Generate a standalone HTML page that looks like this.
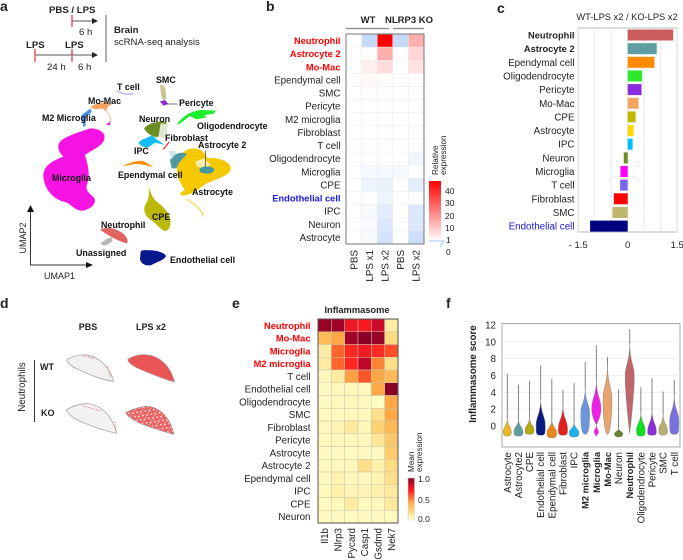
<!DOCTYPE html>
<html><head><meta charset="utf-8"><title>Brain scRNA-seq figure</title>
<style>
html,body{margin:0;padding:0;background:#fff;width:683px;height:560px;overflow:hidden}
svg{display:block;font-family:"Liberation Sans",sans-serif;fill:#222}
text{white-space:pre}
.b{font-weight:bold}
.r{fill:#f00;font-weight:bold}
</style></head>
<body>
<svg id="fig" width="683" height="560" viewBox="0 0 683 560" xmlns="http://www.w3.org/2000/svg">
<defs>
<pattern id="speck" width="20" height="15" patternUnits="userSpaceOnUse" patternTransform="rotate(28)"><rect width="20" height="15" fill="#ea5f5f"/><rect x="2" y="2" width="7" height="4" fill="#f7dcdc"/><rect x="13" y="8" width="5" height="5" fill="#f7dcdc"/><rect x="4" y="10" width="3" height="3" fill="#f7dcdc"/></pattern>
<linearGradient id="cbb" x1="0" y1="0" x2="0" y2="1"><stop offset="0" stop-color="#f00"/><stop offset="1" stop-color="#fff"/></linearGradient>
<linearGradient id="cbe" x1="0" y1="0" x2="0" y2="1"><stop offset="0" stop-color="#8a0026"/><stop offset=".3" stop-color="#fc1e1e"/><stop offset=".6" stop-color="#feb24c"/><stop offset="1" stop-color="#ffffcc"/></linearGradient>
</defs>

<g>
<text class="b" x="0" y="11" font-size="14">a</text>
<g font-size="9.6">
<text class="b" x="49" y="13">PBS / LPS</text>
<path d="M72 21H93" stroke="#555" fill="none"/><path d="M92 18l6 3l-6 3z" fill="#222"/>
<path d="M72 15V27" stroke="#f03030" stroke-width="1.2"/>
<text x="79" y="35">6 h</text>
<text class="b" x="26" y="48">LPS</text>
<text class="b" x="65" y="48">LPS</text>
<path d="M35 55H93" stroke="#555" fill="none"/><path d="M92 52l6 3l-6 3z" fill="#222"/>
<path d="M35 49V62M72 49V62" stroke="#f03030" stroke-width="1.2"/>
<text x="47" y="70">24 h</text>
<text x="78" y="70">6 h</text>
<path d="M106 15V62" stroke="#666"/>
<text class="b" x="114" y="33">Brain</text>
<text x="114" y="45">scRNA-seq analysis</text>
</g>
<g transform="scale(.33333)">
<path fill="#f514e4" d="M270 385C300 385 320 400 312 420C305 440 275 450 255 465C262 490 272 520 262 550C255 570 265 578 280 590C292 605 280 625 250 632C225 634 215 612 195 606C160 600 132 565 130 530C130 500 150 485 190 470C175 455 170 440 180 425C200 405 245 395 270 385Z"/>
<path fill="#4a90e2" d="M245 345L272 325L275 335L258 352L256 380L250 380Z"/>
<path fill="#f4a460" d="M272 322C290 305 320 305 335 312L322 322L318 335L308 325L285 328Z"/>
<path fill="none" stroke="#f4a460" stroke-width="2" d="M318 332C330 345 335 355 330 365"/>
<path fill="#f514e4" d="M318 375L332 363L330 375Z"/>
<path fill="none" stroke="#7b68ee" stroke-width="2" d="M350 272L372 282L400 282"/>
<path fill="#c8c494" d="M480 255C490 252 498 262 498 280C498 292 500 298 492 300C482 295 482 270 480 255Z"/>
<path fill="#8a2be2" d="M480 304L495 300L505 312L490 317Z"/>
<path fill="#18ee2a" d="M530 375C545 350 570 335 600 330L648 332L640 342L612 345L620 352L590 358L570 348C555 358 545 370 530 375Z"/>
<path fill="#6b8e23" d="M432 385C445 370 470 362 498 365C505 378 490 385 488 400L470 412C450 405 440 400 432 385Z"/>
<path fill="#dfe6cf" d="M482 370L505 372L498 412L475 412Z"/>
<path fill="#12bdf2" d="M416 428C425 415 445 415 455 405L470 418L495 435L465 428L445 442C430 442 420 438 416 428Z"/>
<path fill="none" stroke="#f00" stroke-width="3" d="M490 448L508 425"/>
<path fill="#ff8c00" d="M368 498C385 490 405 484 425 482C440 488 450 494 460 502C440 496 425 492 405 492C390 494 378 498 368 498Z"/>
<path fill="#f5c800" d="M560 450C590 438 612 450 622 475C655 470 692 485 692 505C692 525 655 535 625 548C600 560 585 585 545 587L540 578L555 570C535 545 525 510 535 490C540 470 545 458 560 450Z"/>
<path fill="#f9eeb0" d="M585 485L612 475L632 495L610 505L592 500Z"/>
<path fill="#4f9aa2" d="M510 480C520 462 545 452 560 462C552 475 535 485 530 505L515 505Z"/>
<path fill="#cfe4e6" d="M505 452L530 455L515 478Z"/>
<ellipse cx="620" cy="510" rx="22" ry="11" fill="#3f9aa4"/>
<path d="M617 452V500" stroke="#333" fill="none" stroke-width="2"/>
<path fill="none" stroke="#f5d020" stroke-width="3" d="M560 598L590 618L608 640L606 650"/>
<path fill="#bcb80a" d="M445 555C450 575 455 590 470 605C490 620 505 635 510 655C515 680 505 693 495 693C480 688 470 670 450 658C432 645 428 625 438 610C448 598 448 575 445 555Z"/>
<path fill="#e0655f" d="M300 688C325 678 358 688 375 706C385 718 385 730 378 730C350 720 320 705 300 688Z"/>
<path fill="#b8b8b8" d="M302 730C312 722 325 712 335 712C340 718 338 726 328 730C320 738 305 738 302 730Z"/>
<path fill="#0a1890" d="M424 752C445 748 490 752 498 768C492 782 470 785 455 795C438 800 420 790 420 775C422 765 420 758 424 752Z"/>
<path d="M500 312H532" stroke="#333" stroke-width="2" fill="none"/>
</g>
<g class="b" font-size="8.9" fill="#111">
<text x="117" y="90">T cell</text>
<text x="156" y="83">SMC</text>
<text x="179" y="106">Pericyte</text>
<text x="88" y="104">Mo-Mac</text>
<text x="42" y="121">M2 Microglia</text>
<text x="139" y="122">Neuron</text>
<text x="197" y="129">Oligodendrocyte</text>
<text x="165" y="141">Fibroblast</text>
<text x="198" y="148">Astrocyte 2</text>
<text x="134" y="154">IPC</text>
<text x="118" y="178">Ependymal cell</text>
<text x="52" y="181">Microglia</text>
<text x="192" y="195">Astrocyte</text>
<text x="152" y="220">CPE</text>
<text x="101" y="228">Neutrophil</text>
<text x="76" y="256">Unassigned</text>
<text x="170" y="263">Endothelial cell</text>
</g>
<path d="M30.5 265V212M30 265H87" stroke="#333" fill="none"/>
<path d="M27 212l3.5-7l3.5 7zM86 262l7 3l-7 3z" fill="#111"/>
<text font-size="9" transform="translate(26,238) rotate(-90)" text-anchor="middle">UMAP2</text>
<text font-size="9" x="44" y="279">UMAP1</text>
</g>

<g id="pb">
<text class="b" x="266" y="11" font-size="14">b</text>
<text class="b" font-size="9.5" x="368" y="23" text-anchor="middle">WT</text>
<text class="b" font-size="9.5" x="409" y="23" text-anchor="middle">NLRP3 KO</text>
<path d="M346 28.5H389M393 28.5H424" stroke="#888" stroke-width="1.2" fill="none"/>
<rect x="429" y="181" width="12" height="60" fill="url(#cbb)"/>
<path d="M429 241H444M444 241L440 247" stroke="#9ecbf0" fill="none"/>
<g font-size="8.5">
<text x="445" y="194">40</text>
<text x="445" y="206">30</text>
<text x="445" y="219">20</text>
<text x="445" y="231">10</text>
<text x="446" y="243">1</text>
<text x="446" y="255">0</text>
</g>
<text font-size="8.2" transform="translate(438,175) rotate(-90)">Relative</text>
<text font-size="8.2" transform="translate(446,175) rotate(-90)">expression</text>
</g>
<g id="pc">
<text class="b" x="497" y="13" font-size="14">c</text>
<text font-size="9.3" x="627" y="20" text-anchor="middle">WT-LPS x2 / KO-LPS x2</text>
</g>
<g>
<text class="b" x="0" y="308" font-size="14">d</text>
<text class="b" font-size="9" x="88" y="330" text-anchor="middle">PBS</text>
<text class="b" font-size="9" x="151" y="330" text-anchor="middle">LPS x2</text>
<text class="b" font-size="9" x="40" y="370">WT</text>
<text class="b" font-size="9" x="41" y="416">KO</text>
<text font-size="9.8" transform="translate(25,387) rotate(-90)" text-anchor="middle">Neutrophils</text>
<path d="M34.5 360V422" stroke="#333" fill="none"/>
<g transform="translate(0,290) scale(.33333)" stroke-linejoin="round">
<path fill="#f2f2f2" stroke="#999" stroke-width="2" d="M200 210C215 200 235 192 260 195C295 200 328 228 341 274C320 272 280 260 250 245C225 235 205 225 200 210Z"/>
<path fill="none" stroke="#ee6060" stroke-width="3" stroke-dasharray="3 5" d="M248 198L285 205M322 230L332 262"/>
<path fill="#ea5656" stroke="#aaa" stroke-width="2" d="M383 208C395 200 415 192 440 194C480 198 512 228 524 276C490 268 450 250 425 240C405 232 385 222 383 208Z"/>
<path fill="#f2f2f2" stroke="#999" stroke-width="2" d="M198 360C215 350 240 340 265 341C305 345 338 380 350 430C320 424 285 412 250 398C225 388 205 375 198 360Z"/>
<path fill="none" stroke="#ee6060" stroke-width="3" stroke-dasharray="3 5" d="M250 348L300 362M345 395L348 425"/>
<path fill="url(#speck)" stroke="#999" stroke-width="2" d="M377 368C392 360 415 350 440 349C480 350 512 385 522 433C490 425 450 412 420 400C400 390 382 380 377 368Z"/>
</g>
</g>
<g id="pe">
<text class="b" x="232" y="308" font-size="14">e</text>
<text class="b" font-size="9.3" x="357" y="313" text-anchor="middle">Inflammasome</text>
<rect x="408" y="478" width="6.5" height="42" fill="url(#cbe)" stroke="#ccc" stroke-width=".5"/>
<text font-size="8.5" x="418" y="482">1.0</text>
<text font-size="8.5" x="418" y="503">0.5</text>
<text font-size="8.5" x="418" y="522">0.0</text>
<text font-size="8.2" transform="translate(414,472) rotate(-90)">Mean</text>
<text font-size="8.2" transform="translate(422,472) rotate(-90)">expression</text>
</g>
<g id="pf">
<text class="b" x="446" y="308" font-size="14">f</text>
<text class="b" font-size="9.8" transform="translate(476,374) rotate(-90)" text-anchor="middle">Inflammasome score</text>
</g>
</svg>
<script>
var NS = 'http://www.w3.org/2000/svg';
/* Panel b data */
var bRows = ['Neutrophil','Astrocyte 2','Mo-Mac','Ependymal cell','SMC','Pericyte','M2 microglia','Fibroblast','T cell','Oligodendrocyte','Microglia','CPE','Endothelial cell','IPC','Neuron','Astrocyte'];
var bCols = ['PBS','LPS x1','LPS x2','PBS','LPS x2'];
var bValues = [
[1,.6,45,.6,15],[1,1.5,15,1.2,8],[1,4,7,1,6],[1,2,1.5,1.2,1],[1,1.5,1.5,1.4,1.5],[1,1,1.2,1,1],[1,1,1.2,1,1],[1,1,1.3,1,1.5],
[1,1,1.1,1,1],[1,1,1,1,.9],[1,.93,.93,.93,1],[1,.88,.85,1,.8],[1,1.3,.88,1,1.2],[1,.95,.8,1,.75],[1,.95,.75,1,.75],[1,.95,.7,1,.65]];
/* Panel c data */
var cLabels = ['Neutrophil','Astrocyte 2','Ependymal cell','Oligodendrocyte','Pericyte','Mo-Mac','CPE','Astrocyte','IPC','Neuron','Microglia','T cell','Fibroblast','SMC','Endothelial cell'];
var cValues = [1.38,.88,.81,.44,.42,.33,.24,.18,.15,-.12,-.22,-.23,-.42,-.46,-1.14];
var cColors = ['#cd5c5c','#5f9ea0','#ff8c00','#2ee82e','#8a2be2','#f4a460','#c0b800','#ffd700','#00bfff','#6b8e23','#ff00ff','#7b68ee','#ff0000','#bdb76b','#000080'];
var cTicks = [-1.5,-1,-.5,0,.5,1,1.5];
var cTickLabels = ['- 1.5','','','0','','','1.5'];
/* Panel e data */
var eRows = ['Neutrophil','Mo-Mac','Microglia','M2 microglia','T cell','Endothelial cell','Oligodendrocyte','SMC','Fibroblast','Pericyte','Astrocyte','Astrocyte 2','Ependymal cell','IPC','CPE','Neuron'];
var eCols = ['Il1b','Nlrp3','Pycard','Casp1','Gsdmd','Nek7'];
var eValues = [
[.97,.95,.75,.72,.85,.12],[.32,.38,.95,1,.97,.22],[.12,.55,.68,.72,.67,.6],[.12,.55,.68,.88,.48,.2],
[.05,.12,.4,.58,.38,.32],[.03,.05,.05,.05,.38,1],[.03,.05,.05,.05,.02,.38],[.03,.04,.05,.05,.2,.38],
[.05,.07,.14,.05,.25,.33],[.04,.05,.05,.05,.16,.28],[.03,.03,.03,.03,.03,.27],[.04,.05,.05,.2,.1,.22],
[.04,.08,.05,.05,.08,.2],[.05,.1,.07,.07,.1,.14],[.03,.05,.12,.05,.05,.15],[.03,.03,.03,.03,.03,.04]];
/* Panel f data */
var fLabels = ['Astrocyte','Astrocyte2','CPE','Endothelial cell','Ependymal cell','Fibroblast','IPC','M2 microglia','Microglia','Mo-Mac','Neuron','Neutrophil','Oligodendrocyte','Pericyte','SMC','T cell'];
var fBold = ['M2 microglia','Microglia','Mo-Mac','Neutrophil'];
var fMax = [6.2,4.9,5.4,7.2,5.6,4.3,5.1,7.6,9.6,8.2,4.3,11.5,4.6,5.7,4.1,5.5];
var fMode = [-.7,-.7,-.5,0,-.8,-.4,-.8,1.5,2,3,-.9,5.8,-.6,-.7,-.6,.5];
var fBodyTop = [.9,.8,1,3.1,.7,2.4,.4,4.4,5.4,7.2,-.3,9.7,1.6,1.8,1.4,3.6];
var fBodyBottom = [-1.2,-1.2,-1,-1.1,-1.4,-1.1,-1.3,-1,.2,-1,-1.3,-.9,-1.2,-1.1,-1.1,-1];
var fBase = [.8,.8,.8,.95,.8,.9,.8,.7,.2,.45,.7,0,.8,.8,.8,.95];
var fWidth = [4,4.5,4.5,4.6,4.8,4.6,4.8,4.4,4.6,4.5,4.2,4.6,4.4,4.4,4.3,4.6];
var fColors = ['#e8b820','#5f9ea0','#b5ac14','#0b1a80','#e8871e','#e21f1f','#1fb2ea','#6b96dc','#ee1fe6','#e8a46c','#6b8232','#c0666a','#10e020','#8a2fd6','#b8b070','#7b70e0'];
var fTicks = [0,2,4,6,8,10,12];

var boldRedB = ['Neutrophil','Astrocyte 2','Mo-Mac'];
var boldRedE = ['Neutrophil','Mo-Mac','Microglia','M2 microglia'];
var boldC = ['Neutrophil','Astrocyte 2'];

function add(parent, tag, attrs, txt) {
  var el = document.createElementNS(NS, tag);
  for (var k in attrs) el.setAttribute(k, attrs[k]);
  if (txt !== undefined) el.textContent = txt;
  parent.appendChild(el);
  return el;
}
function slug(s) { return s.toLowerCase().replace(/[^a-z0-9]+/g, '-'); }
function mix(a, b, t) {
  return 'rgb(' + [0,1,2].map(function(i){ return Math.round(a[i] + (b[i] - a[i]) * t); }).join(',') + ')';
}
/* Panel b axis functions */
var bX0 = 346, bY0 = 34, bCW = 78 / bCols.length, bRH = 210 / bRows.length;
function bX(c) { return bX0 + c * bCW; }
function bY(r) { return bY0 + r * bRH; }
function bColor(v) {
  if (v >= 1) return mix([255,255,255],[255,0,0],Math.min(1,(v-1)/44));
  return mix([255,255,255],[110,160,240],1-v);
}
var pb = document.getElementById('pb');
bValues.forEach(function(row, r) {
  row.forEach(function(v, c) {
    var cell = add(pb, 'rect', {x:bX(c), y:bY(r), width:bCW, height:bRH, fill:bColor(v), stroke:'#ececec', 'stroke-width':.5});
    
    
  });
  var red = boldRedB.indexOf(bRows[r]) >= 0, blue = bRows[r] === 'Endothelial cell';
  var lab = add(pb, 'text', {x:340.5, y:bY(r)+bRH/2+3.5, 'text-anchor':'end', 'font-size': red||blue ? 9.3 : 9.8, 'font-weight': red||blue ? 'bold':'normal', fill: red ? '#f00' : blue ? '#1a1ae0' : '#222'}, bRows[r]);
  
  
});
var bFrame = add(pb, 'rect', {x:bX0, y:bY0, width:78, height:210, fill:'none', stroke:'#777', 'stroke-width':1});


bCols.forEach(function(name, c) {
  var x = bX(c) + bCW/2 + 3.5;
  var t = add(pb, 'text', {'font-size':9.8, 'text-anchor':'end', transform:'translate('+x+',250) rotate(-90)'}, name);
  
  
});
/* Panel c axis functions */
var cZero = 627.7, cUnit = 33, cTop = 29.5, cStep = 13.65, cBarH = 11;
function cX(v) { return cZero + v * cUnit; }
function cY(i) { return cTop + i * cStep; }
var pc = document.getElementById('pc');
var cFrame = add(pc, 'rect', {x:cX(-1.5), y:28, width:cUnit*3, height:204, fill:'#fff', stroke:'#bbb'});


cTicks.forEach(function(v, i) {
  var g = add(pc, 'line', {x1:cX(v), x2:cX(v), y1:28, y2:232, stroke:'#e8e8e8'});
  
  
  if (cTickLabels[i]) {
    var t = add(pc, 'text', {x:cX(v), y:248, 'font-size':9.5, 'text-anchor':'middle'}, cTickLabels[i]);
    
    
  }
});
cValues.forEach(function(v, i) {
  var bar = add(pc, 'rect', {x:Math.min(cX(0),cX(v)), y:cY(i), width:Math.abs(cX(v)-cX(0)), height:cBarH, fill:cColors[i]});
  
  
  var bold = boldC.indexOf(cLabels[i]) >= 0, blue = cLabels[i] === 'Endothelial cell';
  var t = add(pc, 'text', {x:574.5, y:cY(i)+cBarH/2+3.5, 'text-anchor':'end', 'font-size': bold ? 9.3 : 9.8, 'font-weight': bold ? 'bold':'normal', fill: blue ? '#1a1ae0' : '#222'}, cLabels[i]);
  
  
});
/* Panel e axis functions */
var eX0 = 318, eY0 = 319, eCW = 80 / eCols.length, eRH = 204 / eRows.length;
function eX(c) { return eX0 + c * eCW; }
function eY(r) { return eY0 + r * eRH; }
var eStopsAt = [0,.2,.35,.5,.7,.85,1];
var eStopsRgb = [[255,255,204],[254,224,138],[254,178,76],[253,125,48],[252,30,30],[204,10,42],[138,0,38]];
function eColor(v) {
  for (var i = 1; i < eStopsAt.length; i++) {
    if (v <= eStopsAt[i]) return mix(eStopsRgb[i-1], eStopsRgb[i], (v-eStopsAt[i-1])/(eStopsAt[i]-eStopsAt[i-1]));
  }
  return mix(eStopsRgb[6], eStopsRgb[6], 0);
}
var pe = document.getElementById('pe');
eValues.forEach(function(row, r) {
  row.forEach(function(v, c) {
    var cell = add(pe, 'rect', {x:eX(c), y:eY(r), width:eCW, height:eRH, fill:eColor(v), stroke:'#c8c8b0', 'stroke-width':.5});
    
    
  });
  var red = boldRedE.indexOf(eRows[r]) >= 0;
  var lab = add(pe, 'text', {x:310.5, y:eY(r)+eRH/2+3.5, 'text-anchor':'end', 'font-size': red ? 9.3 : 9.8, 'font-weight': red ? 'bold':'normal', fill: red ? '#f00' : '#222'}, eRows[r]);
  
  
});
var eFrame = add(pe, 'rect', {x:eX0, y:eY0, width:80, height:204, fill:'none', stroke:'#555', 'stroke-width':1});


eCols.forEach(function(name, c) {
  var x = eX(c) + eCW/2 + 3.5;
  var t = add(pe, 'text', {'font-size':9.8, 'text-anchor':'end', transform:'translate('+x+',528) rotate(-90)'}, name);
  
  
});
/* Panel f axis functions */
var fX0 = 507.3, fStep = 11.13, fY0 = 426, fUnit = 8.42;
function fX(i) { return fX0 + i * fStep; }
function fY(v) { return fY0 - v * fUnit; }
var pf = document.getElementById('pf');
var fFrame = add(pf, 'rect', {x:502, y:323.5, width:178, height:123.5, fill:'#fff', stroke:'#aaa'});


fTicks.forEach(function(v) {
  var g = add(pf, 'line', {x1:502, x2:680, y1:fY(v), y2:fY(v), stroke:'#efefef'});
  
  
  var t = add(pf, 'text', {x:496, y:fY(v)+3.5, 'text-anchor':'end', 'font-size':9.8}, String(v));
  
  
});
fLabels.forEach(function(name, i) {
  var cx = fX(i), w = fWidth[i], top = fY(fBodyTop[i]), mid = fY(fMode[i]), bot = fY(fBodyBottom[i]);
  var base = fBase[i], k = .3 + .6 * base;
  var stem = add(pf, 'line', {x1:cx, x2:cx, y1:fY(fMax[i]), y2:top, stroke:'#777', 'stroke-width':.9});
  
  
  var d = 'M' + cx + ' ' + top +
    ' C' + (cx+.5) + ' ' + (top+(mid-top)*.6) + ' ' + (cx+w) + ' ' + (mid-(mid-top)*.4) + ' ' + (cx+w) + ' ' + mid +
    ' C' + (cx+w) + ' ' + (mid+(bot-mid)*k) + ' ' + (cx+w*base) + ' ' + bot + ' ' + cx + ' ' + bot +
    ' C' + (cx-w*base) + ' ' + bot + ' ' + (cx-w) + ' ' + (mid+(bot-mid)*k) + ' ' + (cx-w) + ' ' + mid +
    ' C' + (cx-w) + ' ' + (mid-(mid-top)*.4) + ' ' + (cx-.5) + ' ' + (top+(mid-top)*.6) + ' ' + cx + ' ' + top + 'Z';
  var body = add(pf, 'path', {d:d, fill:fColors[i], stroke:'#777', 'stroke-width':.4});
  
  
  if (fBodyBottom[i] > -.5) {
    var lower = add(pf, 'path', {d:'M'+cx+' '+bot+'L'+cx+' '+fY(-1.2)+'M'+(cx-2.2)+' '+fY(-.7)+'L'+cx+' '+fY(-.1)+'L'+(cx+2.2)+' '+fY(-.7)+'L'+cx+' '+fY(-1.2)+'Z', fill:fColors[i], stroke:fColors[i], 'stroke-width':.6});
    
    
  }
  var bold = fBold.indexOf(name) >= 0;
  var t = add(pf, 'text', {'font-size': bold ? 9.3 : 9.8, 'font-weight': bold ? 'bold':'normal', 'text-anchor':'end', transform:'translate('+(cx+3.5)+',452) rotate(-90)'}, name);
  
  
});
</script>
</body></html>
